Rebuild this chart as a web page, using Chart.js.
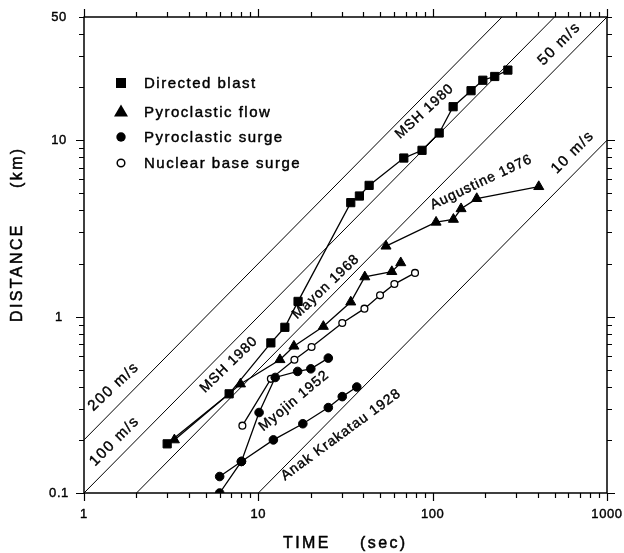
<!DOCTYPE html>
<html>
<head>
<meta charset="utf-8">
<script src="https://cdn.jsdelivr.net/npm/chart.js@4/dist/chart.umd.min.js"></script>
<style>
  html, body { margin: 0; padding: 0; background: #fff; }
  canvas { display: block; }
</style>
</head>
<body>
<canvas id="chart" width="624" height="553"></canvas>
<script>
// Runout distance against travel time for blasts, flows and surges (log-log).

// Directed blast, MSH 1980
const blastTime = [3.0, 6.8, 11.8, 14.2, 16.9, 33.9, 38.0, 43.2, 68.3, 86.9, 109, 131, 166, 194, 227, 270];
const blastDist = [0.19, 0.365, 0.71, 0.87, 1.22, 4.43, 4.83, 5.55, 7.93, 8.77, 11.0, 15.5, 19.1, 21.9, 23.0, 25.0];

// Pyroclastic flows: Mayon 1968 and Augustine 1976
const mayonTime = [3.3, 7.9, 13.3, 16.0, 23.6, 33.9, 40.8, 58.3, 65.6];
const mayonDist = [0.20, 0.415, 0.57, 0.68, 0.88, 1.21, 1.68, 1.80, 2.02];
const augustineTime = [54.0, 104.6, 131.5, 145.5, 179, 406];
const augustineDist = [2.51, 3.43, 3.56, 4.09, 4.67, 5.46];

// Pyroclastic surges: Myojin 1952 and Anak Krakatau 1928
const myojinTime = [6.0, 8.0, 10.1, 12.5, 16.8, 20.0, 25.2];
const myojinDist = [0.100, 0.151, 0.286, 0.452, 0.489, 0.506, 0.582];
const anakTime = [6.0, 8.0, 12.2, 18.0, 25.2, 30.3, 36.7];
const anakDist = [0.124, 0.151, 0.200, 0.247, 0.305, 0.352, 0.399];

// Nuclear base surge
const nuclearTime = [8.1, 11.8, 16.1, 20.2, 30.3, 40.6, 49.9, 60.3, 79.2];
const nuclearDist = [0.241, 0.444, 0.570, 0.673, 0.921, 1.11, 1.32, 1.53, 1.77];

// Constant-velocity reference lines (m/s) and the times where they cross the frame
const velocityValues = [200, 100, 50, 10];
const velocityStartTime = [1, 1, 2, 10];
const velocityEndTime = [250, 500, 1000, 1000];

// Axis tick labels
const xTickLabels = [1, 10, 100, 1000];
const yTickLabels = [0.1, 1, 10, 50];

// Legend entries
const legendLabels = ['Directed blast', 'Pyroclastic flow', 'Pyroclastic surge', 'Nuclear base surge'];

// Annotations along the curves and velocity lines
const noteTexts = ['200 m/s', '100 m/s', 'MSH 1980', 'Myojin 1952', 'Anak Krakatau 1928',
                   'Mayon 1968', 'Augustine 1976', 'MSH 1980', '50 m/s', '10 m/s'];

// Placement of those annotations: anchor (time, distance), text angle, font size
const notePlacement = [
  { t: 1.13,  d: 0.290,  angle: -43,   size: 15 },
  { t: 1.157, d: 0.141,  angle: -45,   size: 15 },
  { t: 4.94,  d: 0.368,  angle: -44,   size: 14 },
  { t: 10.68, d: 0.2233, angle: -39.7, size: 14 },
  { t: 14.2,  d: 0.1175, angle: -36.2, size: 14 },
  { t: 16.67, d: 0.962,  angle: -43.5, size: 14 },
  { t: 100,   d: 4.05,   angle: -25.3, size: 14 },
  { t: 64.9,  d: 10.13,  angle: -42.5, size: 14 },
  { t: 431,   d: 26.4,   angle: -45,   size: 15 },
  { t: 514.7, d: 6.41,   angle: -45,   size: 15 }
];

const FONT = '"Liberation Sans", Arial, Helvetica, sans-serif';
const INK = '#000';

const pairs = (xs, ys) => xs.map((x, i) => ({ x: x, y: ys[i] }));

function seriesStyle(kind) {
  const base = { showLine: true, borderColor: INK, borderWidth: 1.3, tension: 0, pointBorderColor: INK };
  if (kind === 'blast') return Object.assign(base, { pointStyle: 'rect', pointRadius: 5.8, pointBackgroundColor: INK, pointBorderWidth: 1 });
  if (kind === 'flow') return Object.assign(base, { pointStyle: 'triangle', pointRadius: 5.8, pointBackgroundColor: INK, pointBorderWidth: 1 });
  if (kind === 'surge') return Object.assign(base, { pointStyle: 'circle', pointRadius: 4.3, pointBackgroundColor: INK, pointBorderWidth: 1 });
  return Object.assign(base, { pointStyle: 'circle', pointRadius: 3.4, pointBackgroundColor: '#fff', pointBorderWidth: 1.3 });
}

const velocitySets = velocityValues.map((v, i) => ({
  label: v + ' m/s',
  data: [
    { x: velocityStartTime[i], y: v * velocityStartTime[i] / 1000 },
    { x: velocityEndTime[i], y: v * velocityEndTime[i] / 1000 }
  ],
  showLine: true,
  borderColor: INK,
  borderWidth: 1,
  pointRadius: 0,
  order: 10
}));

const datasets = velocitySets.concat([
  Object.assign({ label: 'Anak Krakatau 1928', data: pairs(anakTime, anakDist) }, seriesStyle('surge')),
  Object.assign({ label: 'Myojin 1952', data: pairs(myojinTime, myojinDist) }, seriesStyle('surge')),
  Object.assign({ label: 'Mayon 1968', data: pairs(mayonTime, mayonDist) }, seriesStyle('flow')),
  Object.assign({ label: 'Augustine 1976', data: pairs(augustineTime, augustineDist) }, seriesStyle('flow')),
  Object.assign({ label: 'Nuclear base surge', data: pairs(nuclearTime, nuclearDist) }, seriesStyle('nuclear')),
  Object.assign({ label: 'MSH 1980 directed blast', data: pairs(blastTime, blastDist) }, seriesStyle('blast'))
]);

function isDecade(v) {
  const l = Math.log10(v);
  return Math.abs(l - Math.round(l)) < 1e-6;
}

// Minor tick values (1..9 per decade) between lo and hi
function logTicks(lo, hi) {
  const out = [];
  for (let e = Math.floor(Math.log10(lo)); e <= Math.ceil(Math.log10(hi)); e++) {
    for (let m = 1; m <= 9; m++) {
      const v = m * Math.pow(10, e);
      if (v >= lo * 0.9999 && v <= hi * 1.0001) out.push(v);
    }
  }
  return out;
}

// Filled text with a hairline outline so the lettering reads as a heavy print face
function inkText(ctx, txt, x, y, weight) {
  ctx.fillText(txt, x, y);
  ctx.lineWidth = weight;
  ctx.strokeText(txt, x, y);
}

function drawMarker(ctx, style, x, y, r) {
  ctx.save();
  ctx.fillStyle = INK;
  ctx.strokeStyle = INK;
  ctx.lineWidth = 1;
  ctx.beginPath();
  if (style === 'rect') {
    ctx.rect(x - r, y - r, 2 * r, 2 * r);
    ctx.fill();
  } else if (style === 'triangle') {
    const h = r * 1.732;
    ctx.moveTo(x, y - h * 0.62);
    ctx.lineTo(x + r, y + h * 0.38);
    ctx.lineTo(x - r, y + h * 0.38);
    ctx.closePath();
    ctx.fill();
  } else if (style === 'circle') {
    ctx.arc(x, y, r, 0, Math.PI * 2);
    ctx.fill();
  } else {
    ctx.lineWidth = 1.5;
    ctx.fillStyle = '#fff';
    ctx.arc(x, y, r, 0, Math.PI * 2);
    ctx.fill();
    ctx.stroke();
  }
  ctx.restore();
}

const decorPlugin = {
  id: 'decor',
  afterDatasetsDraw(chart) {
    const ctx = chart.ctx;
    const xs = chart.scales.x, ys = chart.scales.y;
    const a = chart.chartArea;
    ctx.save();
    ctx.fillStyle = INK;
    ctx.strokeStyle = INK;
    ctx.lineJoin = 'round';

    // frame
    ctx.lineWidth = 1.5;
    ctx.strokeRect(a.left, a.top, a.right - a.left, a.bottom - a.top);

    // tick marks on all four sides, pointing outward
    ctx.lineWidth = 1.2;
    ctx.beginPath();
    logTicks(xs.min, xs.max).forEach(v => {
      const px = Math.round(xs.getPixelForValue(v)) + 0.5;
      const len = isDecade(v) ? 8 : 5;
      ctx.moveTo(px, a.bottom); ctx.lineTo(px, a.bottom + len);
      ctx.moveTo(px, a.top); ctx.lineTo(px, a.top - len);
    });
    logTicks(ys.min, ys.max).forEach(v => {
      const py = Math.round(ys.getPixelForValue(v)) + 0.5;
      const len = isDecade(v) ? 8 : 5;
      ctx.moveTo(a.left, py); ctx.lineTo(a.left - len, py);
      ctx.moveTo(a.right, py); ctx.lineTo(a.right + len, py);
    });
    ctx.stroke();

    // tick labels
    ctx.font = '13px ' + FONT;
    ctx.letterSpacing = '0.6px';
    ctx.textBaseline = 'middle';
    ctx.textAlign = 'center';
    xTickLabels.forEach(v => {
      inkText(ctx, String(v), xs.getPixelForValue(v), a.bottom + 21.5, 0.4);
    });
    yTickLabels.forEach(v => {
      inkText(ctx, String(v), a.left - 25, ys.getPixelForValue(v) + 0.5, 0.4);
    });

    // axis titles
    ctx.font = '16px ' + FONT;
    ctx.letterSpacing = '2.4px';
    ctx.textAlign = 'left';
    inkText(ctx, 'TIME', a.left + 199, a.bottom + 50.5, 0.5);
    inkText(ctx, '(sec)', a.left + 276, a.bottom + 50.5, 0.5);
    ctx.save();
    ctx.translate(18, a.top + 305);
    ctx.rotate(-Math.PI / 2);
    inkText(ctx, 'DISTANCE', 0, 0, 0.5);
    inkText(ctx, '(km)', 134, 0, 0.5);
    ctx.restore();

    // legend
    const styles = ['rect', 'triangle', 'circle', 'open'];
    const sizes = [5, 7, 4.7, 3.8];
    const rows = [66, 95, 120, 146];
    ctx.font = '15px ' + FONT;
    ctx.letterSpacing = '1.5px';
    ctx.textAlign = 'left';
    legendLabels.forEach((lab, i) => {
      const y = a.top + rows[i];
      drawMarker(ctx, styles[i], a.left + 37, y, sizes[i]);
      inkText(ctx, lab, a.left + 60, y + 0.5, 0.45);
    });

    // annotations along curves
    ctx.textBaseline = 'alphabetic';
    noteTexts.forEach((txt, i) => {
      const p = notePlacement[i];
      ctx.save();
      ctx.translate(xs.getPixelForValue(p.t), ys.getPixelForValue(p.d));
      ctx.rotate(p.angle * Math.PI / 180);
      ctx.font = p.size + 'px ' + FONT;
      ctx.letterSpacing = p.size === 15 ? '1.5px' : '1px';
      inkText(ctx, txt, 0, 0, 0.4);
      ctx.restore();
    });

    ctx.letterSpacing = '0px';
    ctx.restore();
  }
};

new Chart(document.getElementById('chart'), {
  type: 'scatter',
  data: { datasets: datasets },
  options: {
    responsive: false,
    animation: false,
    devicePixelRatio: 1,
    layout: { padding: { left: 84, right: 17, top: 17, bottom: 60 } },
    plugins: { legend: { display: false }, tooltip: { enabled: false } },
    scales: {
      x: { type: 'logarithmic', min: 1, max: 1000, display: false },
      y: { type: 'logarithmic', min: 0.1, max: 50, display: false }
    }
  },
  plugins: [decorPlugin]
});
</script>
</body>
</html>
